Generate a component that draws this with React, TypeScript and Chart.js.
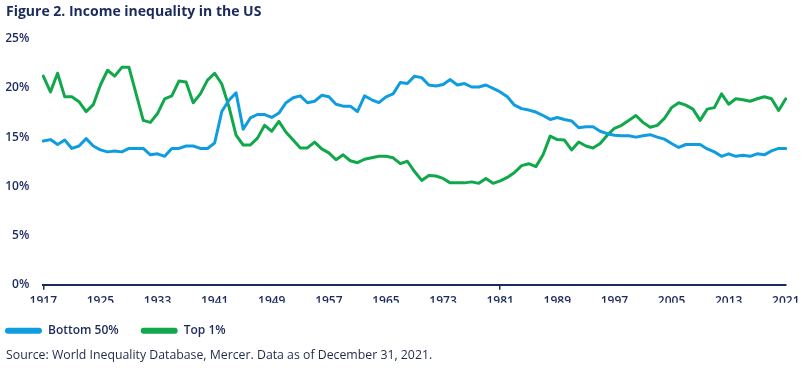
import React, { useEffect, useRef } from "react";
import { Chart, registerables } from "chart.js";

Chart.register(...registerables);

const NAVY = "#1b2a5c";
const BLUE = "#0f9ddf";
const GREEN = "#10a84a";

const firstYear = 1917;
const lastYear = 2021;
const years: number[] = Array.from({ length: lastYear - firstYear + 1 }, (_, i) => firstYear + i);

const tickYears: number[] = [1917, 1925, 1933, 1941, 1949, 1957, 1965, 1973, 1981, 1989, 1997, 2005, 2013, 2021];

const yTicks: number[] = [0, 5, 10, 15, 20, 25];

// Bottom 50% share (%) 1917-2021
const bottom50: number[] = [
  14.6, 14.75, 14.25, 14.7, 13.85, 14.1, 14.85, 14.1, // 1917-1924
  13.7, 13.5, 13.6, 13.5, 13.85, 13.85, 13.85, 13.2, // 1925-1932
  13.3, 13.05, 13.85, 13.85, 14.1, 14.1, 13.85, 13.85, // 1933-1940
  14.4, 17.6, 18.75, 19.5, 15.8, 16.95, 17.3, 17.3, // 1941-1948
  17.0, 17.45, 18.5, 19.0, 19.2, 18.5, 18.65, 19.25, // 1949-1956
  19.1, 18.35, 18.15, 18.15, 17.6, 19.2, 18.8, 18.5, // 1957-1964
  19.1, 19.4, 20.55, 20.45, 21.2, 21.05, 20.3, 20.2, // 1965-1972
  20.35, 20.85, 20.3, 20.45, 20.1, 20.1, 20.3, 19.95, // 1973-1980
  19.6, 19.1, 18.25, 17.9, 17.75, 17.55, 17.2, 16.8, // 1981-1988
  17.0, 16.8, 16.65, 15.95, 16.05, 16.05, 15.6, 15.35, // 1989-1996
  15.2, 15.15, 15.15, 15.0, 15.15, 15.25, 15.0, 14.8, // 1997-2004
  14.35, 13.95, 14.25, 14.25, 14.25, 13.8, 13.5, 13.05, // 2005-2012
  13.3, 13.05, 13.15, 13.05, 13.3, 13.2, 13.6, 13.85, // 2013-2020
  13.85, // 2021
];

// Top 1% share (%) 1917-2021
const top1: number[] = [
  21.2, 19.6, 21.5, 19.1, 19.1, 18.6, 17.6, 18.3, // 1917-1924
  20.3, 21.8, 21.2, 22.1, 22.1, 19.4, 16.7, 16.5, // 1925-1932
  17.4, 18.9, 19.2, 20.7, 20.6, 18.5, 19.4, 20.8, // 1933-1940
  21.5, 20.4, 18.1, 15.2, 14.2, 14.2, 14.9, 16.2, // 1941-1948
  15.6, 16.6, 15.5, 14.7, 13.9, 13.9, 14.5, 13.8, // 1949-1956
  13.4, 12.7, 13.2, 12.6, 12.4, 12.75, 12.9, 13.05, // 1957-1964
  13.05, 12.9, 12.3, 12.55, 11.5, 10.6, 11.1, 11.05, // 1965-1972
  10.8, 10.35, 10.35, 10.35, 10.45, 10.3, 10.8, 10.3, // 1973-1980
  10.55, 10.9, 11.4, 12.1, 12.3, 12.0, 13.2, 15.1, // 1981-1988
  14.75, 14.7, 13.7, 14.5, 14.1, 13.9, 14.35, 15.2, // 1989-1996
  15.9, 16.2, 16.7, 17.2, 16.5, 16.0, 16.2, 16.9, // 1997-2004
  18.0, 18.5, 18.25, 17.85, 16.7, 17.85, 18.0, 19.4, // 2005-2012
  18.35, 18.9, 18.8, 18.65, 18.9, 19.1, 18.9, 17.7, // 2013-2020
  18.9, // 2021
];

const titleText = "Figure 2. Income inequality in the US";
const sourceText = "Source: World Inequality Database, Mercer. Data as of December 31, 2021.";
const seriesNames = ["Bottom 50%", "Top 1%"];

const legendShift = {
  id: "legendShift",
  afterLayout(chart: any) {
    const lg = chart.legend;
    if (lg) {
      lg.left -= 23;
      lg.right -= 23;
    }
  },
};

export default function App() {
  const ref = useRef<HTMLCanvasElement | null>(null);

  useEffect(() => {
    if (!ref.current) return;
    const chart = new Chart(ref.current, {
      type: "line",
      data: {
        labels: years.map(String),
        datasets: [
          {
            label: seriesNames[0],
            data: bottom50,
            borderColor: BLUE,
            backgroundColor: BLUE,
            borderWidth: 3,
            pointRadius: 0,
            tension: 0,
            borderJoinStyle: "round",
            borderCapStyle: "round",
          },
          {
            label: seriesNames[1],
            data: top1,
            borderColor: GREEN,
            backgroundColor: GREEN,
            borderWidth: 3,
            pointRadius: 0,
            tension: 0,
            borderJoinStyle: "round",
            borderCapStyle: "round",
          },
        ],
      },
      options: {
        animation: false,
        responsive: true,
        maintainAspectRatio: false,
        layout: { padding: { left: 6, right: 18, top: 0, bottom: 0 } },
        plugins: {
          title: {
            display: true,
            text: titleText,
            align: "start",
            color: NAVY,
            font: { family: "'Open Sans', sans-serif", size: 14, weight: "bold" },
            padding: { top: 3.6, bottom: 18.4 },
          },
          subtitle: {
            display: true,
            text: sourceText,
            position: "bottom",
            align: "start",
            color: "#1f2a48",
            font: { family: "'Open Sans', sans-serif", size: 12.3, weight: "normal" },
            padding: { top: 1.4, bottom: 5.2 },
          },
          legend: {
            display: true,
            position: "bottom",
            align: "start",
            labels: {
              boxWidth: 37,
              boxHeight: 6,
              useBorderRadius: true,
              borderRadius: 3,
              padding: 22,
              color: NAVY,
              font: { family: "'Open Sans', sans-serif", size: 12, weight: "600" },
              generateLabels: (c: any) =>
                (Chart.defaults.plugins.legend.labels.generateLabels as any)(c).map((l: any) => ({
                  ...l,
                  lineWidth: 0,
                  fillStyle: l.strokeStyle,
                })),
            },
          },
          tooltip: { enabled: false },
        },
        scales: {
          x: {
            type: "category",
            afterFit: (scale: any) => {
              scale.height = 18;
            },
            grid: {
              display: true,
              drawOnChartArea: false,
              drawTicks: true,
              tickLength: 5,
              color: NAVY,
              lineWidth: (ctx: any) => (tickYears.includes(years[ctx.index]) ? 1.5 : 0),
            },
            border: { display: true, color: NAVY, width: 2 },
            ticks: {
              autoSkip: false,
              maxRotation: 0,
              minRotation: 0,
              padding: 4.5,
              color: NAVY,
              font: { family: "'Open Sans', sans-serif", size: 12, weight: "600" },
              callback: (_v: any, i: number) => (tickYears.includes(years[i]) ? String(years[i]) : null),
            },
          },
          y: {
            min: yTicks[0],
            max: yTicks[yTicks.length - 1],
            afterFit: (scale: any) => {
              scale.width = 37.3;
            },
            afterBuildTicks: (scale: any) => {
              scale.ticks = yTicks.map((v) => ({ value: v }));
            },
            grid: { display: false, drawTicks: false },
            border: { display: false },
            ticks: {
              padding: 14,
              color: NAVY,
              font: { family: "'Open Sans', sans-serif", size: 12, weight: "600" },
              callback: (v: any) => `${v}%`,
            },
          },
        },
      },
      plugins: [legendShift],
    });
    return () => chart.destroy();
  }, []);

  return (
    <div style={{ position: "absolute", left: 0, top: 0, width: 804, height: 368, background: "#fff" }}>
      <canvas ref={ref} />
    </div>
  );
}
